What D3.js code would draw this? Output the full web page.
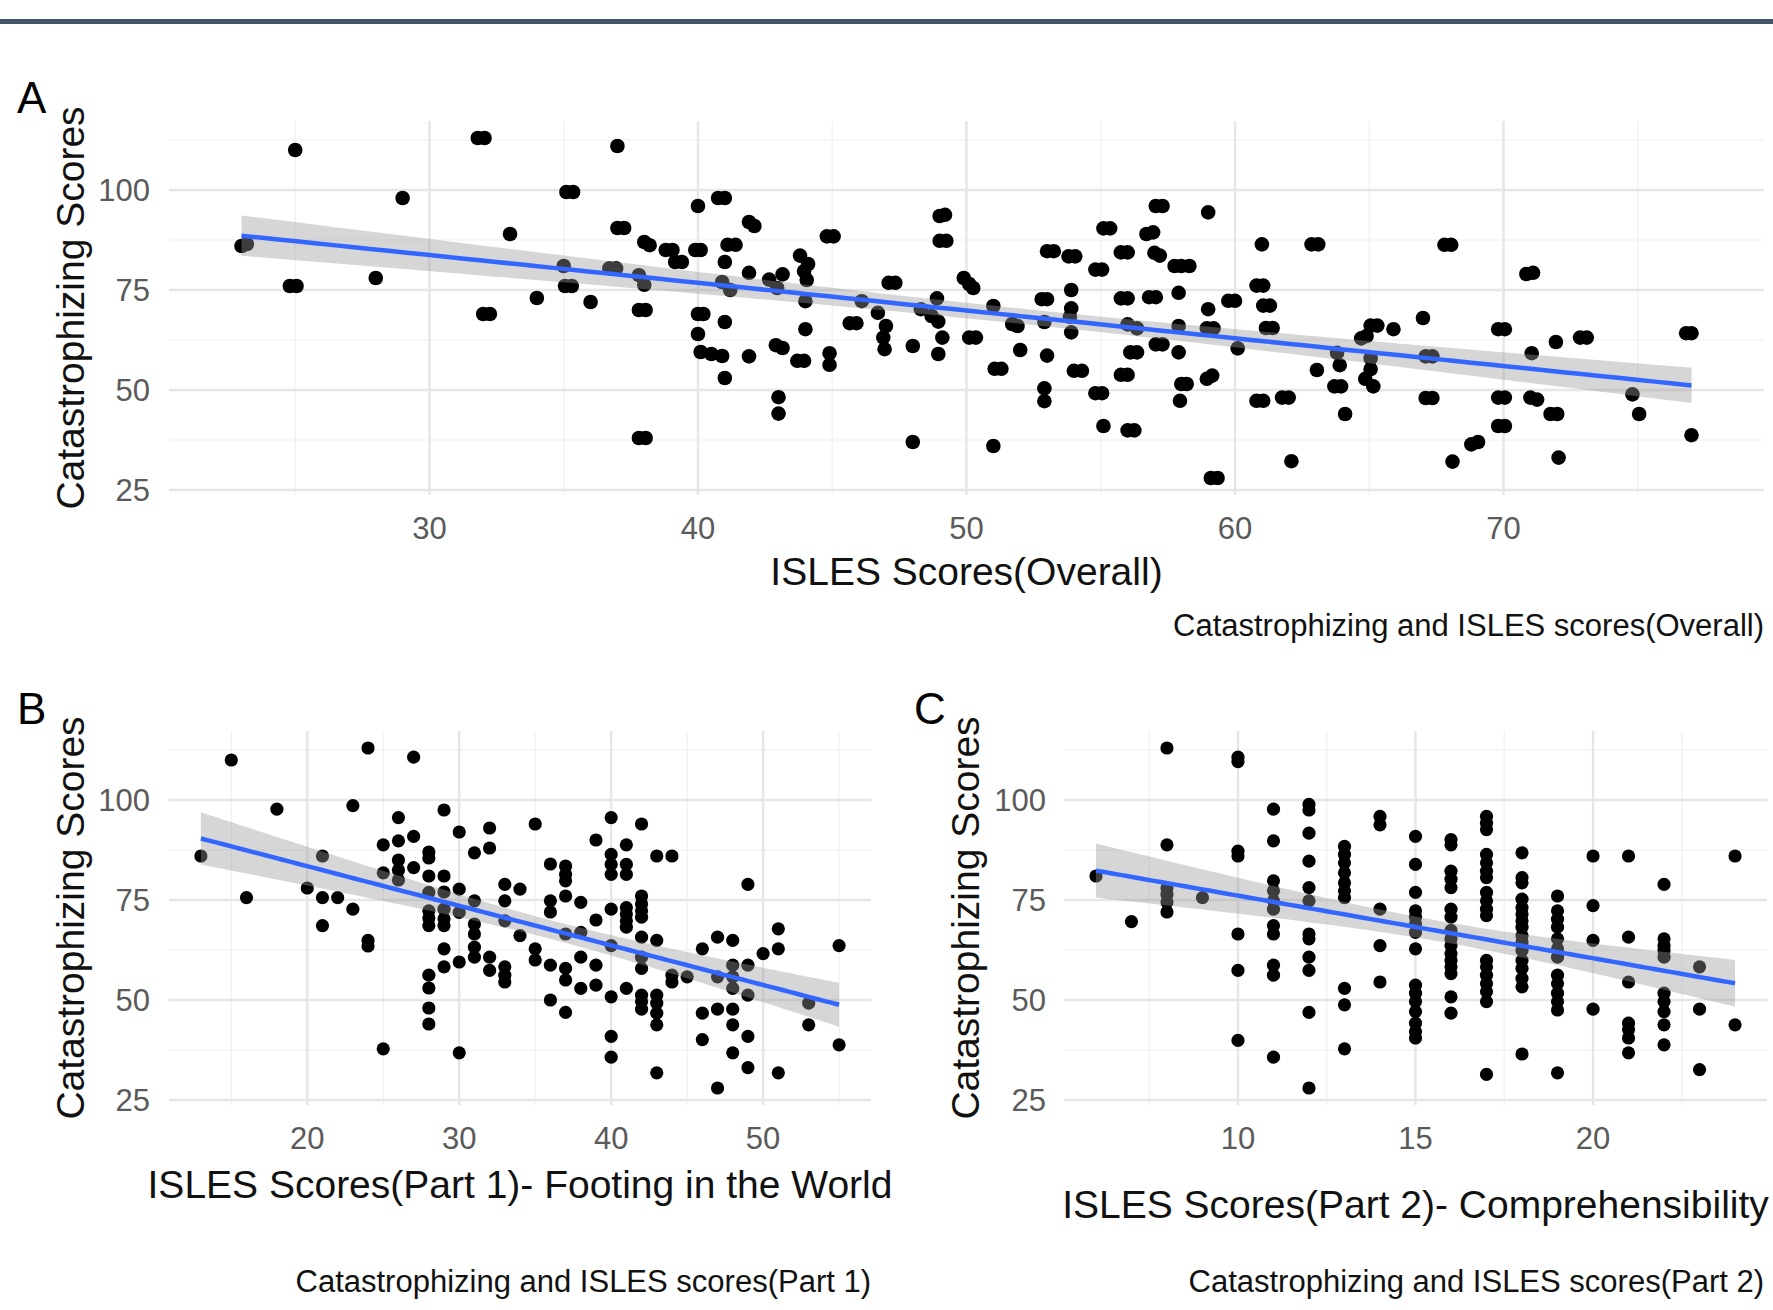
<!DOCTYPE html>
<html>
<head>
<meta charset="utf-8">
<script src="https://cdn.jsdelivr.net/npm/d3@7/dist/d3.min.js"></script>
<style>
  body { margin: 0; background: #fff; }
  text { font-family: Arial, "Liberation Sans", sans-serif; }
</style>
</head>
<body>
<div id="chart"></div>
<script>
// ISLES overall vs catastrophizing (some points sit in close pairs)
const pointsA = [
  [23.0,86],[23.2,86.5],[25,110],[24.8,76],[25.05,76],[29,98],[28,78],[31.8,113],[32.05,113],
  [33,89],[32,69],[32.25,69],[34,73],[35.1,99.5],[35.35,99.5],[35,81],[35.05,76],[35.3,76],
  [36,72],[37,111],[37.0,90.5],[37.25,90.5],[36.7,80.4],[36.95,80.4],[38,87],[38.2,86.2],
  [37.8,78.7],[38.0,76.3],[37.8,70],[38.05,70],[37.8,38],[38.05,38],[38.8,85],[39.05,85],
  [39.15,82],[39.4,82],[39.9,85],[40.1,85],[40,96],[40,69],[40.2,69],[40,64],
  [40.1,59.5],[40.5,59],[40.9,58.5],[40.75,98],[41.0,98],[41.9,92],[42.1,91],[41.1,86.3],[41.4,86.3],
  [41,82],[40.9,77],[41.2,75],[41.9,79.3],[41,67],[41,53],[41.9,58.4],
  [42.65,77.6],[43.15,78.9],[42.95,75.5],[43.8,83.6],[44.1,81.5],[43.95,79.7],[44.05,77.5],
  [44,72.2],[44,65.2],[42.9,61.2],[43.15,60.5],[43.7,57.3],[43.95,57.3],[43,48.2],[43,44.1],
  [44.8,88.4],[45.05,88.4],[44.9,59.2],[44.9,56.3],[46.1,72.2],[45.65,66.7],[45.9,66.7],
  [47.1,76.8],[47.35,76.8],[46.7,69.3],[47,66],[46.9,63.1],[46.95,60.2],[48,61],[48,37],
  [49,93.5],[49.2,93.8],[49,87.3],[49.25,87.3],[48.9,72.9],[48.3,70.2],[48.7,68.5],[48.95,67.1],
  [49.1,63.1],[48.95,59],[49.9,78],[50.1,76.5],[50.25,75.5],[50.1,63.1],[50.35,63.1],[51,71],
  [51.05,55.3],[51.3,55.3],[51,36],[51.7,66.5],[51.9,66],[52,60],[52.8,72.7],[53.0,72.7],[52.9,67],
  [53.0,84.7],[53.25,84.7],[53.8,83.4],[54.05,83.4],[53.9,75],[53.9,70.4],[53.85,68.3],[53.9,64.4],
  [53,58.6],[52.9,50.4],[52.9,47.2],[54,54.8],[54.3,54.8],[54.8,80.1],[55.05,80.1],
  [54.8,49.2],[55.05,49.2],[55.1,41],[55.1,90.4],[55.35,90.4],[55.75,84.4],[56.0,84.4],
  [55.75,72.9],[56.0,72.9],[56,66.4],[56.35,65.4],[56.1,59.4],[56.35,59.4],[55.75,53.8],[56.0,53.8],
  [56.0,39.9],[56.25,39.9],[57.05,96],[57.3,96],[56.7,89],[56.95,89.4],[57.0,84.3],[57.2,83.6],
  [56.8,73.2],[57.05,73.2],[57.05,61.4],[57.3,61.4],[57.75,81],[58.0,81],[58.3,81],[57.9,74.3],
  [57.9,66],[57.9,59.4],[58.0,51.5],[58.2,51.5],[57.95,47.3],[59,94.4],[59,70.2],[58.95,65.4],[59.2,65.4],
  [58.95,52.8],[59.15,53.6],[59.1,28],[59.35,28],[59.75,72.3],[60.0,72.3],[60.1,60.4],
  [61,86.4],[60.8,76.1],[61.05,76.1],[61.05,71.1],[61.3,71.1],[61.15,65.5],[61.4,65.5],
  [60.8,47.3],[61.05,47.3],[61.75,48.1],[62.0,48.1],[62.1,32.2],[62.85,86.4],[63.1,86.4],
  [63.05,55],[63.8,59.3],[63.9,56.2],[63.7,50.9],[63.95,50.9],[64.1,44],[64.7,62.9],[64.9,63.5],
  [65.05,66.1],[65.3,66.1],[65.05,57.9],[65.05,55.2],[64.85,52.8],[65.15,50.9],[65.9,65.2],
  [67,68],[67.1,58.4],[67.35,58.4],[67.1,48],[67.35,48],[67.8,86.3],[68.05,86.3],[68.1,32.1],
  [68.8,36.4],[69.05,37],[69.8,65.2],[70.05,65.2],[69.8,48.1],[70.05,48.1],[69.8,41],[70.05,41],
  [70.85,79],[71.1,79.3],[71.05,59.2],[71.0,48.1],[71.25,47.6],[71.95,62],[72.85,63.1],[73.1,63.1],
  [71.75,44],[72.0,44],[72.05,33.1],[74.8,48.9],[75.05,44],[76.8,64.2],[77.0,64.2],[77,38.7]
];

// ISLES part 1 (footing in the world) vs catastrophizing
const pointsB = [
  [13,86],[15,110],[16,75.6],[18,97.7],[20,78],[21,86],[21,75.6],[22,75.6],[21,68.6],[23,72.7],
  [23,98.6],[24,113],[24,64.9],[24,63.5],[25,37.8],[25,88.8],[25,81.8],[26,95.6],[26,89.8],[26,85],
  [26,82.5],[26,80],[27,110.7],[27,90.9],[27,83.1],[28,87],[28,85.5],[28,81],[28,76.9],[28,72.3],
  [28,70.5],[28,68.6],[28,56.2],[28,53],[28,48],[28,44],[29,97.5],[29,81],[29,77],[29,72.7],
  [29,70.3],[29,68.6],[29,62.8],[29,58.3],[30,92],[30,77.7],[30,71.9],[30,59.5],[30,36.8],[31,86.8],
  [31,74.8],[31,69],[31,66.5],[31,63.2],[31,60.7],[32,93],[32,88],[32,60.7],[32,57.4],[33,78.9],
  [33,74.8],[33,69.8],[33,58.3],[33,56.2],[33,54.5],[34,77.7],[34,66.1],[35,94],[35,62.8],[35,60],
  [36,84],[36,74.8],[36,72],[36,58.7],[36,50],[37,83.5],[37,81.4],[37,79.8],[37,76],[37,66.5],
  [37,57.9],[37,55],[37,46.9],[38,74.4],[38,66.9],[38,60.7],[38,52.9],[39,90],[39,70],[39,58.7],
  [39,53.7],[40,95.6],[40,86.4],[40,83.9],[40,81.4],[40,72.7],[40,63.6],[40,50.8],[40,40.9],[40,35.7],
  [41,88.8],[41,83.9],[41,81.4],[41,73.1],[41,71.5],[41,69.8],[41,68.2],[41,52.9],[42,94],[42,76],
  [42,74],[42,72.3],[42,70.7],[42,65.7],[42,60.7],[42,57.9],[42,51.2],[42,49.6],[42,47.7],[43,86],
  [43,64.9],[43,51.2],[43,49.2],[43,46.7],[43,43.8],[43,31.8],[44,86],[44,56.2],[44,54.5],[45,55.8],
  [46,62.8],[46,46.7],[46,40.1],[47,65.7],[47,55.8],[47,47.7],[47,28],[48,64.9],[48,58.7],[48,55.8],
  [48,52.9],[48,47.7],[48,43.8],[48,36.8],[49,78.9],[49,58.7],[49,51.2],[49,40.9],[49,33.1],[50,61.6],
  [51,67.8],[51,62.8],[51,31.8],[53,49.2],[53,43.8],[55,63.6],[55,38.8]
];

// ISLES part 2 (comprehensibility) vs catastrophizing
const pointsC = [
  [6,81],[7,69.6],[8,113],[8,88.8],[8,78],[8,76.4],[8,74.5],[8,72],[9,75.6],
  [10,110.7],[10,109.6],[10,87.2],[10,86],[10,66.5],[10,57.4],[10,39.9],
  [11,97.7],[11,89.8],[11,79.8],[11,77.3],[11,74.8],[11,72.7],[11,68.6],[11,66.5],[11,58.7],[11,56.2],[11,35.7],
  [12,98.9],[12,97.5],[12,91.7],[12,84.7],[12,78.1],[12,74.8],[12,66.5],[12,65.3],[12,60.7],[12,57.4],[12,46.9],[12,28],
  [13,88.4],[13,86.4],[13,84.3],[13,81.8],[13,79.3],[13,77.3],[13,75.6],[13,52.9],[13,48.8],[13,37.8],
  [14,95.9],[14,93.8],[14,72.7],[14,63.6],[14,54.5],
  [15,90.9],[15,83.9],[15,76.9],[15,72.3],[15,70.7],[15,69],[15,66.9],[15,62.8],[15,53.7],[15,51.7],
  [15,49.6],[15,47.1],[15,44.2],[15,42.1],[15,40.5],
  [16,90.1],[16,88.8],[16,82.2],[16,80.2],[16,78.1],[16,72.7],[16,70.7],[16,67.4],[16,65.3],[16,63.6],
  [16,61.6],[16,59.9],[16,58.3],[16,56.6],[16,50.8],[16,46.7],
  [17,95.9],[17,94.2],[17,92.6],[17,86.4],[17,84.3],[17,82.2],[17,80.6],[17,76.9],[17,74.8],[17,72.7],
  [17,71.1],[17,59.9],[17,58.3],[17,56.2],[17,54.1],[17,52.1],[17,49.6],[17,31.4],
  [18,86.8],[18,80.6],[18,79.3],[18,75.2],[18,73.1],[18,71.5],[18,69.8],[18,68.2],[18,66.1],[18,64.5],
  [18,62.4],[18,59.9],[18,57.9],[18,55.4],[18,53.3],[18,36.5],
  [19,76],[19,72.3],[19,70.2],[19,68.2],[19,65.3],[19,62.8],[19,60.7],[19,56.2],[19,54.1],[19,51.7],
  [19,49.6],[19,47.5],[19,31.8],
  [20,86],[20,73.6],[20,64.9],[20,47.7],
  [21,86],[21,65.7],[21,54.5],[21,44.2],[21,42.6],[21,40.5],[21,36.8],
  [22,78.9],[22,65.3],[22,63.6],[22,62.4],[22,60.7],[22,51.7],[22,49.6],[22,47.1],[22,43.8],[22,38.8],
  [23,58.3],[23,47.7],[23,32.6],[24,86],[24,43.8]
];

const yTicks = [25, 50, 75, 100];
const yMinor = [37.5, 62.5, 87.5, 112.5];
const xTicksA = [30, 40, 50, 60, 70];
const xMinorA = [25, 35, 45, 55, 65, 75];
const xTicksB = [20, 30, 40, 50];
const xMinorB = [15, 25, 35, 45, 55];
const xTicksC = [10, 15, 20];
const xMinorC = [7.5, 12.5, 17.5, 22.5];

const yTitle = 'Catastrophizing Scores';
const tags = ['A', 'B', 'C'];
const xTitles = [
  'ISLES Scores(Overall)',
  'ISLES Scores(Part 1)- Footing in the World',
  'ISLES Scores(Part 2)- Comprehensibility'
];
const captions = [
  'Catastrophizing and ISLES scores(Overall)',
  'Catastrophizing and ISLES scores(Part 1)',
  'Catastrophizing and ISLES scores(Part 2)'
];

const W = 1773, H = 1310;
const T975 = 1.972; // qt(0.975, ~200 df)

const svg = d3.select('#chart').append('svg')
    .attr('width', W)
    .attr('height', H);

// header rule across the top of the figure
svg.append('rect')
    .attr('x', 0).attr('y', 19)
    .attr('width', W).attr('height', 5)
    .attr('fill', '#44546a');

const panels = [
  { data: pointsA, ticks: xTicksA, minor: xMinorA, left: 169, right: 1764, top: 121, bottom: 495,
    r: 7.3, tagX: 17, tagY: 113, yTitleX: 84, yTickX: 150, xTickY: 528, xTitleY: 571, capX: 1764, capY: 625 },
  { data: pointsB, ticks: xTicksB, minor: xMinorB, left: 169, right: 871, top: 731, bottom: 1105,
    r: 6.6, tagX: 17, tagY: 724, yTitleX: 84, yTickX: 150, xTickY: 1138, xTitleY: 1184, capX: 871, capY: 1281 },
  { data: pointsC, ticks: xTicksC, minor: xMinorC, left: 1064, right: 1767, top: 731, bottom: 1105,
    r: 6.6, tagX: 914, tagY: 724, yTitleX: 979, yTickX: 1046, xTickY: 1138, xTitleY: 1204, capX: 1764, capY: 1281 }
];

// ggplot style 5% expansion of the data range
function padded(ext) {
  const d = (ext[1] - ext[0]) * 0.05;
  return [ext[0] - d, ext[1] + d];
}

// least squares fit with 95% confidence band, like geom_smooth(method = "lm")
function lmFit(data) {
  const n = data.length;
  const mx = d3.mean(data, d => d[0]), my = d3.mean(data, d => d[1]);
  const sxx = d3.sum(data, d => (d[0] - mx) ** 2);
  const sxy = d3.sum(data, d => (d[0] - mx) * (d[1] - my));
  const b = sxy / sxx, a = my - b * mx;
  const sse = d3.sum(data, d => (d[1] - a - b * d[0]) ** 2);
  const s = Math.sqrt(sse / (n - 2));
  const [x0, x1] = d3.extent(data, d => d[0]);
  return d3.range(80).map(i => {
    const x = x0 + (x1 - x0) * i / 79;
    const se = s * Math.sqrt(1 / n + (x - mx) ** 2 / sxx);
    const fit = a + b * x;
    return { x, fit, lo: fit - T975 * se, hi: fit + T975 * se };
  });
}

panels.forEach((p, i) => {
  const x = d3.scaleLinear().domain(padded(d3.extent(p.data, d => d[0]))).range([p.left, p.right]);
  const y = d3.scaleLinear().domain(padded(d3.extent(p.data, d => d[1]))).range([p.bottom, p.top]);
  const g = svg.append('g');

  // grid
  g.selectAll('.ymin').data(yMinor).join('line')
      .attr('x1', p.left).attr('x2', p.right)
      .attr('y1', d => y(d)).attr('y2', d => y(d))
      .attr('stroke', '#f0f0f0').attr('stroke-width', 1.2);
  g.selectAll('.xmin').data(p.minor).join('line')
      .attr('y1', p.top).attr('y2', p.bottom)
      .attr('x1', d => x(d)).attr('x2', d => x(d))
      .attr('stroke', '#f0f0f0').attr('stroke-width', 1.2);
  g.selectAll('.ymaj').data(yTicks).join('line')
      .attr('x1', p.left).attr('x2', p.right)
      .attr('y1', d => y(d)).attr('y2', d => y(d))
      .attr('stroke', '#e6e6e6').attr('stroke-width', 2.4);
  g.selectAll('.xmaj').data(p.ticks).join('line')
      .attr('y1', p.top).attr('y2', p.bottom)
      .attr('x1', d => x(d)).attr('x2', d => x(d))
      .attr('stroke', '#e6e6e6').attr('stroke-width', 2.4);

  // tick labels
  g.selectAll('.ylab').data(yTicks).join('text')
      .attr('x', p.yTickX).attr('y', d => y(d)).attr('dy', '0.35em')
      .attr('text-anchor', 'end')
      .attr('font-size', 31).attr('fill', '#5a5a5a')
      .text(d => d);
  g.selectAll('.xlab').data(p.ticks).join('text')
      .attr('x', d => x(d)).attr('y', p.xTickY).attr('dy', '0.35em')
      .attr('text-anchor', 'middle')
      .attr('font-size', 31).attr('fill', '#5a5a5a')
      .text(d => d);

  // points
  g.append('g').selectAll('circle').data(p.data).join('circle')
      .attr('cx', d => x(d[0])).attr('cy', d => y(d[1]))
      .attr('r', p.r).attr('fill', '#000');

  // fitted line and band
  const fit = lmFit(p.data);
  g.append('path').datum(fit)
      .attr('fill', '#999').attr('fill-opacity', 0.4)
      .attr('d', d3.area().x(d => x(d.x)).y0(d => y(d.lo)).y1(d => y(d.hi)));
  g.append('path').datum(fit)
      .attr('fill', 'none').attr('stroke', '#3366ff').attr('stroke-width', 4.5)
      .attr('d', d3.line().x(d => x(d.x)).y(d => y(d.fit)));

  // titles
  g.append('text')
      .attr('transform', `translate(${p.yTitleX},${(p.top + p.bottom) / 2}) rotate(-90)`)
      .attr('text-anchor', 'middle')
      .attr('font-size', 39).attr('fill', '#111')
      .text(yTitle);
  g.append('text')
      .attr('x', (p.left + p.right) / 2).attr('y', p.xTitleY).attr('dy', '0.35em')
      .attr('text-anchor', 'middle')
      .attr('font-size', 39).attr('fill', '#111')
      .text(xTitles[i]);
  g.append('text')
      .attr('x', p.capX).attr('y', p.capY).attr('dy', '0.35em')
      .attr('text-anchor', 'end')
      .attr('font-size', 31).attr('fill', '#111')
      .text(captions[i]);
  g.append('text')
      .attr('x', p.tagX).attr('y', p.tagY)
      .attr('font-size', 44).attr('fill', '#000')
      .text(tags[i]);
});
</script>
</body>
</html>
